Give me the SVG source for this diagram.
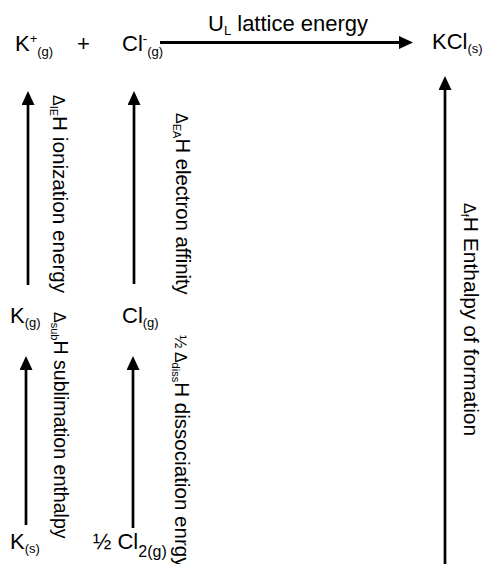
<svg xmlns="http://www.w3.org/2000/svg" width="483" height="564" viewBox="0 0 483 564">
  <defs>
    <style>
      text { font-family: "Liberation Sans", Arial, Helvetica, sans-serif; font-size: 22px; fill: #000; }
      .sub { font-size: 13px; }
      .lsub { font-size: 11px; }
      .delta { font-size: 16px; }
      .conn { stroke: #000; stroke-width: 2.7; fill: none; marker-end: url(#ah); }
      .hconn { stroke-width: 3; }
    </style>
    <marker id="ah" markerUnits="userSpaceOnUse" markerWidth="14" markerHeight="13" refX="0.5" refY="6.5" orient="auto" viewBox="0 0 14 13">
      <path d="M0,0 L14,6.5 L0,13 Z" fill="#000"/>
    </marker>
  </defs>

  <rect width="483" height="564" fill="#fff"/>

  <!-- Connectors -->
  <g id="connectors">
    <line class="conn hconn" x1="160" y1="42.5" x2="399.5" y2="42.5"/>
    <line class="conn" x1="28" y1="285" x2="28" y2="104.5"/>
    <line class="conn" x1="134" y1="284" x2="134" y2="104.5"/>
    <line class="conn" x1="26" y1="525" x2="26" y2="369.5"/>
    <line class="conn" x1="133" y1="528" x2="133" y2="369.5"/>
    <line class="conn" x1="445" y1="564" x2="445" y2="89.5"/>
  </g>

  <!-- Connector labels -->
  <g id="connector-labels">
    <text id="lbl-lattice" x="208" y="31">U<tspan class="sub" dy="4">L</tspan><tspan dy="-4"> lattice energy</tspan></text>
    <text id="lbl-ionization" transform="translate(53,95) rotate(90)" style="font-size:20.7px"><tspan class="delta">Δ</tspan><tspan class="lsub" dy="3">IE</tspan><tspan dy="-3">H ionization energy</tspan></text>
    <text id="lbl-affinity" transform="translate(175.5,113) rotate(90)" style="font-size:20.3px"><tspan class="delta">Δ</tspan><tspan class="lsub" dy="3">EA</tspan><tspan dy="-3">H electron affinity</tspan></text>
    <text id="lbl-sublimation" transform="translate(53.5,312) rotate(90)" style="font-size:19.6px"><tspan class="delta">Δ</tspan><tspan class="lsub" dy="3">sub</tspan><tspan dy="-3">H sublimation enthalpy</tspan></text>
    <text id="lbl-dissociation" transform="translate(174.5,335) rotate(90)" style="font-size:20.6px"><tspan class="delta">½ Δ</tspan><tspan class="lsub" dy="3">diss</tspan><tspan dy="-3">H dissociation enrgy</tspan></text>
    <text id="lbl-formation" transform="translate(464,203) rotate(90)" style="font-size:21px"><tspan class="delta">Δ</tspan><tspan class="lsub" dy="3">f</tspan><tspan dy="-3">H Enthalpy of formation</tspan></text>
  </g>

  <!-- Nodes -->
  <g id="node-K-ion">
    <text x="15" y="51">K<tspan class="sub" dy="-8">+</tspan><tspan class="sub" dy="12.5">(g)</tspan></text>
  </g>
  <g id="node-plus">
    <text x="77" y="51">+</text>
  </g>
  <g id="node-Cl-ion">
    <text x="122" y="51">Cl<tspan class="sub" dy="-8">-</tspan><tspan class="sub" dy="12.5">(g)</tspan></text>
  </g>
  <g id="node-KCl">
    <text x="432" y="48.5">KCl<tspan class="sub" dy="4">(s)</tspan></text>
  </g>
  <g id="node-K-gas">
    <text x="10" y="323">K<tspan class="sub" dy="4">(g)</tspan></text>
  </g>
  <g id="node-Cl-gas">
    <text x="122" y="323">Cl<tspan class="sub" dy="4">(g)</tspan></text>
  </g>
  <g id="node-K-solid">
    <text x="10" y="548.5">K<tspan class="sub" dy="4">(s)</tspan></text>
  </g>
  <g id="node-Cl2">
    <text x="93" y="548.5">½ Cl<tspan font-size="16" dy="8">2(g)</tspan></text>
  </g>
</svg>
